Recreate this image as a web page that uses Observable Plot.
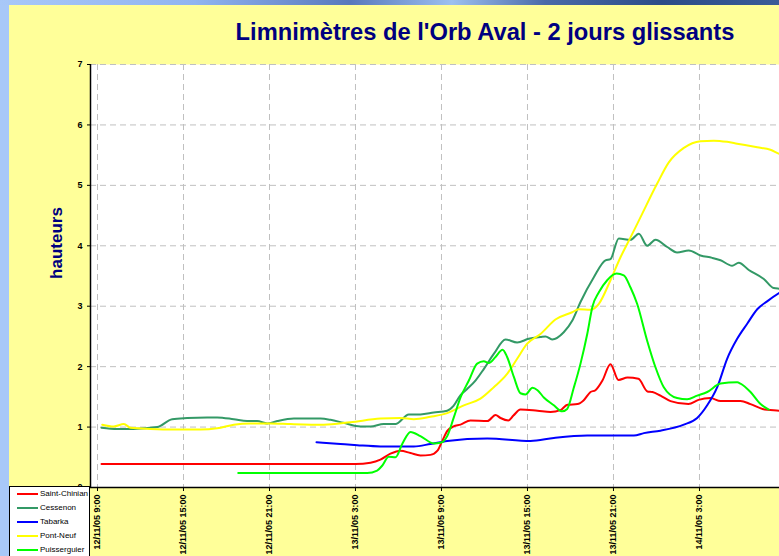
<!DOCTYPE html>
<html><head><meta charset="utf-8">
<script src="https://cdn.jsdelivr.net/npm/d3@7"></script>
<script src="https://cdn.jsdelivr.net/npm/@observablehq/plot@0.6"></script>
<style>
html,body{margin:0;padding:0;overflow:hidden;background:#a8c8f8;}
#wrap{position:relative;width:779px;height:556px;overflow:hidden;background:#a8c8f8;font-family:"Liberation Sans",Arial,sans-serif;}
#topstrip{position:absolute;left:0;top:0;width:779px;height:5px;background:linear-gradient(90deg,#a8c8f8 0%,#90b4f0 25%,#5878bc 45%,#9cc0f0 58%,#4a6aa8 70%,#2c4c88 85%,#3a5c98 100%);}
#panel{position:absolute;left:9px;top:5px;width:770px;height:551px;background:#FFFF99;}
#chart{position:absolute;left:9px;top:5px;}
#chart svg{max-width:none;}
#chart svg text{font-weight:bold;fill:#000;}
#title{position:absolute;left:185px;width:600px;top:21px;text-align:center;font:bold 23.7px "Liberation Sans",Arial,sans-serif;line-height:1;color:#000080;white-space:nowrap;}
#ylab{position:absolute;left:57px;top:243px;transform:translate(-50%,-50%) rotate(-90deg);font:bold 17px "Liberation Sans",Arial,sans-serif;color:#000080;white-space:nowrap;}
#legend{position:absolute;left:9px;top:486px;width:81px;height:80px;background:#fff;border:1px solid #000;box-sizing:border-box;}
.lg{position:absolute;left:0;height:14px;width:80px;}
.lg .sw{position:absolute;left:7px;top:6px;width:21px;height:2px;}
.lg .tx{position:absolute;left:30px;top:2px;font:8px "Liberation Sans",Arial,sans-serif;color:#000;line-height:10px;white-space:nowrap;}
</style>
</head><body>
<div id="wrap">
  <div id="topstrip"></div>
  <div id="panel"></div>
  <div id="chart"></div>
  <div id="title"></div>
  <div id="ylab"></div>
  <div id="legend"></div>
</div>
<script>
// ---- data (hours since 12/11/05 9:00, heights in m) ----
const titleText = "Limnimètres de l'Orb Aval - 2 jours glissants";
const yLabel = "hauteurs";
const seriesNames = ["Saint-Chinian", "Cessenon", "Tabarka", "Pont-Neuf", "Puisserguier"];
const seriesColors = ["#FF0000", "#339966", "#0000FF", "#FFFF00", "#00FF00"];
const yTicks = [0, 1, 2, 3, 4, 5, 6, 7];
const xTickHours = [0, 6, 12, 18, 24, 30, 36, 42, 48];

const saintChinianHours = [0.28,18.0,19.05,19.74,20.44,21.14,21.84,22.53,23.23,23.72,24.07,24.42,24.84,25.33,26.02,27.21,27.77,28.12,28.67,29.02,29.51,30.7,31.61,32.3,32.79,33.49,33.91,34.4,34.74,35.23,35.79,36.35,36.98,37.74,38.37,38.72,39.28,39.98,41.23,41.93,42.77,43.47,44.86,45.56,46.4,47.58,48.35];
const saintChinianValues = [0.39,0.39,0.41,0.46,0.56,0.61,0.57,0.53,0.54,0.61,0.78,0.94,1.01,1.04,1.11,1.10,1.20,1.15,1.11,1.19,1.29,1.27,1.25,1.28,1.37,1.38,1.44,1.58,1.61,1.77,2.04,1.78,1.82,1.80,1.59,1.58,1.52,1.43,1.38,1.45,1.48,1.43,1.43,1.38,1.30,1.27,1.25];

const cessenonHours = [0.28,1.37,2.51,4.17,5.21,6.26,7.65,8.35,9.51,10.44,11.14,11.84,12.54,13.7,15.56,16.26,17.16,18.35,19.05,19.97,20.79,21.72,22.53,23.46,24.4,24.84,25.33,25.79,26.37,26.95,27.65,28.47,29.28,30.09,30.91,31.26,31.72,32.53,33.12,33.7,34.63,35.44,35.79,36.37,37.19,37.77,38.35,38.93,39.75,40.44,41.25,42.07,42.89,43.47,44.28,44.74,45.44,46.49,47.18,47.58,48.35];
const cessenonValues = [0.99,0.97,0.97,1.00,1.13,1.15,1.16,1.16,1.13,1.10,1.10,1.06,1.10,1.14,1.14,1.12,1.07,1.01,1.01,1.05,1.05,1.21,1.21,1.24,1.27,1.35,1.53,1.63,1.77,1.96,2.21,2.45,2.40,2.46,2.49,2.50,2.45,2.57,2.76,3.07,3.48,3.76,3.78,4.12,4.10,4.20,4.00,4.10,3.98,3.89,3.92,3.84,3.80,3.76,3.67,3.72,3.60,3.45,3.30,3.29,3.28];

const tabarkaHours = [15.28,16.95,18.12,19.74,22.07,23.23,24.4,27.19,30.21,31.84,34.17,37.42,38.12,39.28,40.91,41.84,42.54,43.24,43.93,44.63,45.33,46.03,46.72,47.58,48.35];
const tabarkaValues = [0.75,0.72,0.70,0.68,0.68,0.72,0.77,0.81,0.77,0.82,0.86,0.86,0.90,0.94,1.04,1.15,1.36,1.66,2.13,2.46,2.71,2.95,3.08,3.22,3.32];

const pontNeufHours = [0.33,1.14,1.84,2.3,3.7,5.32,7.19,8.35,9.51,10.67,12.07,13.47,15.79,17.65,19.74,21.14,22.07,23.23,24.4,25.56,26.72,27.65,28.58,29.28,29.98,30.91,31.95,33.12,33.58,34.4,34.98,35.79,36.49,37.19,37.88,39.05,39.86,40.91,42.07,43.0,43.93,44.63,46.03,46.95,47.58,48.35];
const pontNeufValues = [1.04,1.01,1.05,0.99,0.97,0.96,0.96,0.98,1.04,1.06,1.06,1.05,1.04,1.08,1.14,1.15,1.13,1.17,1.23,1.36,1.47,1.66,1.88,2.13,2.38,2.54,2.78,2.90,2.95,2.94,3.04,3.43,3.81,4.14,4.47,5.03,5.38,5.62,5.73,5.74,5.72,5.69,5.63,5.59,5.52,5.48];

const puisserguierHours = [9.82,18.82,19.51,19.86,20.32,20.79,21.26,21.84,22.53,23.46,23.93,24.4,24.86,25.33,25.91,26.49,26.95,27.3,27.77,28.26,28.58,29.05,29.51,29.86,30.35,30.7,31.14,31.84,32.42,32.77,33.23,33.7,34.17,34.54,34.98,35.56,36.21,36.72,37.19,37.65,38.35,38.93,39.51,40.44,41.14,41.84,42.54,43.47,44.63,44.86,45.56,46.26,46.84];
const puisserguierValues = [0.24,0.24,0.28,0.36,0.51,0.50,0.72,0.92,0.85,0.73,0.74,0.85,1.16,1.49,1.77,2.05,2.09,2.06,2.16,2.28,2.16,1.83,1.56,1.54,1.65,1.61,1.49,1.36,1.26,1.30,1.65,2.05,2.54,3.00,3.23,3.43,3.54,3.51,3.31,3.04,2.43,1.99,1.66,1.48,1.46,1.52,1.58,1.72,1.74,1.72,1.58,1.38,1.29];

const seriesHours = [saintChinianHours, cessenonHours, tabarkaHours, pontNeufHours, puisserguierHours];
const seriesValues = [saintChinianValues, cessenonValues, tabarkaValues, pontNeufValues, puisserguierValues];

// ---- build ----
const start = Date.UTC(2005, 10, 12, 9, 0);
const toDate = h => new Date(start + h * 3600e3);
const rows = [];
seriesNames.forEach((name, k) => {
  seriesHours[k].forEach((h, i) => rows.push({name, t: toDate(h), v: seriesValues[k][i]}));
});
const xTicks = xTickHours.map(toDate);
const pad = n => String(n).padStart(2, "0");
const fmt = d => `${pad(d.getUTCDate())}/${pad(d.getUTCMonth() + 1)}/${pad(d.getUTCFullYear() % 100)} ${d.getUTCHours()}:${pad(d.getUTCMinutes())}`;

const x0 = toDate(-0.488), x1 = toDate(51.77);
const chart = Plot.plot({
  width: 830, height: 551,
  marginLeft: 81, marginRight: 0, marginTop: 59, marginBottom: 69,
  style: {background: "transparent", fontFamily: "Liberation Sans, Arial, sans-serif", fontSize: "9px", fontWeight: "bold", color: "#000"},
  x: {type: "utc", domain: [x0, x1]},
  y: {domain: [0, 7]},
  color: {domain: seriesNames, range: seriesColors},
  marks: [
    Plot.frame({fill: "white", stroke: "none"}),
    Plot.gridY(yTicks.slice(1), {stroke: "#c0c0c0", strokeOpacity: 1, strokeDasharray: "6,4"}),
    Plot.gridX(xTicks, {stroke: "#c0c0c0", strokeOpacity: 1, strokeDasharray: "6,4"}),
    Plot.line(rows, {x: "t", y: "v", z: "name", stroke: "name", strokeWidth: 2, curve: "monotone-x"}),
    Plot.ruleY([0], {stroke: "#000", strokeWidth: 1.5}),
    Plot.ruleX([x0], {stroke: "#000", strokeWidth: 1.5}),
    Plot.axisY(yTicks, {tickSize: 3, tickPadding: 5, label: null, stroke: "#000", tickFormat: d => String(d)}),
    Plot.axisX(xTicks, {tickSize: 4, tickPadding: 3, tickRotate: -90, tickFormat: fmt, label: null, stroke: "#000"})
  ]
});
document.getElementById("chart").appendChild(chart);
document.getElementById("title").textContent = titleText;
document.getElementById("ylab").textContent = yLabel;

const lg = document.getElementById("legend");
seriesNames.forEach((name, k) => {
  const e = document.createElement("div");
  e.className = "lg";
  e.style.top = (k * 14) + "px";
  e.innerHTML = `<div class="sw" style="background:${seriesColors[k]}"></div><div class="tx"></div>`;
  e.querySelector(".tx").textContent = name;
  lg.appendChild(e);
});
</script>
</body></html>
